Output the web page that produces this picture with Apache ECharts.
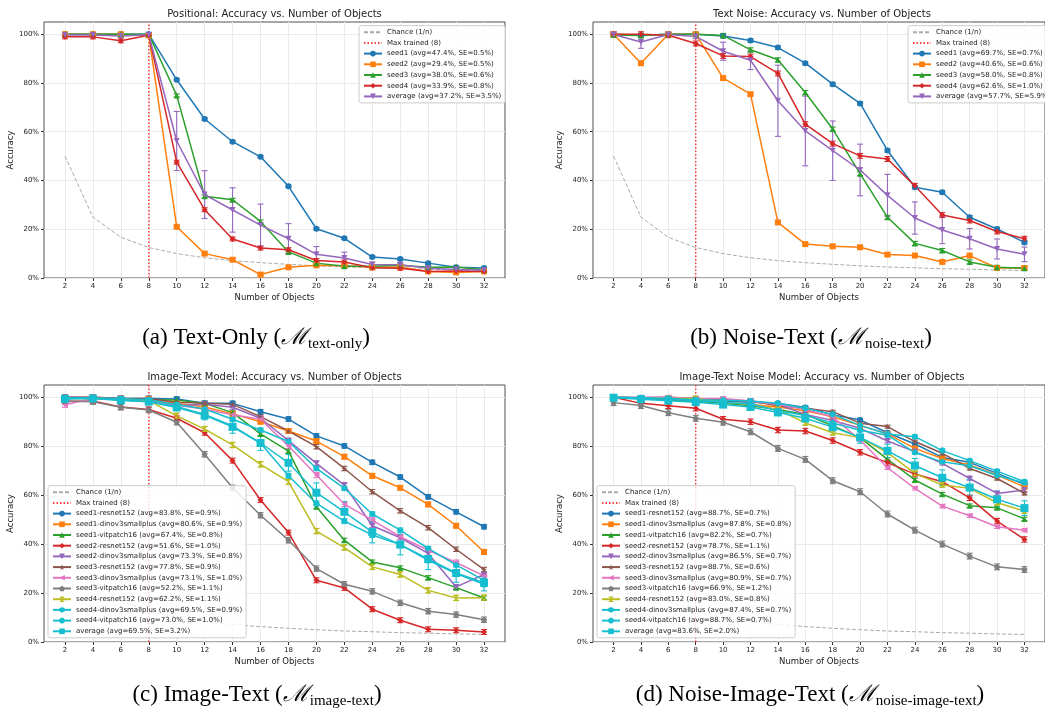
<!DOCTYPE html>
<html>
<head>
<meta charset="utf-8">
<script src="https://cdn.jsdelivr.net/npm/echarts@6/dist/echarts.min.js"></script>
<style>
  html, body { margin: 0; padding: 0; background: #fff; }
  #main { width: 1045px; height: 713px; }
</style>
</head>
<body>
<div id="main"></div>
<script>
// x positions and chance level
var N_OBJECTS = [2, 4, 6, 8, 10, 12, 14, 16, 18, 20, 22, 24, 26, 28, 30, 32];
var CHANCE = [50, 25, 16.7, 12.5, 10, 8.3, 7.1, 6.3, 5.6, 5.0, 4.5, 4.2, 3.8, 3.6, 3.3, 3.1];
var MAX_TRAINED = 8;
var Y_MAX = 105;
var Y_TICKS = [0, 20, 40, 60, 80, 100];

// (a) Positional / text only
var textOnlyLabels = ['seed1 (avg=47.4%, SE=0.5%)', 'seed2 (avg=29.4%, SE=0.5%)', 'seed3 (avg=38.0%, SE=0.6%)',
    'seed4 (avg=33.9%, SE=0.8%)', 'average (avg=37.2%, SE=3.5%)'];
var textOnlySeed1 = [100, 100, 100, 100, 81.3, 65.2, 55.9, 49.7, 37.6, 20.2, 16.3, 8.6, 7.8, 6.1, 4.4, 4.1];
var textOnlySeed2 = [100, 100, 100, 99.5, 21.0, 10.0, 7.5, 1.4, 4.4, 5.2, 5.0, 4.4, 4.5, 2.7, 2.3, 2.7];
var textOnlySeed3 = [100, 100, 100, 100, 74.9, 33.5, 32.1, 23.2, 10.7, 6.1, 4.8, 4.8, 5.2, 4.4, 4.5, 3.4];
var textOnlySeed4 = [98.9, 98.9, 97.3, 99.6, 47.5, 28.0, 16.0, 12.3, 11.6, 7.2, 6.6, 4.2, 4.0, 2.7, 2.9, 2.7];
var textOnlyAvg = [99.7, 99.7, 99.3, 99.8, 56.2, 34.2, 27.9, 21.7, 16.1, 9.7, 8.2, 5.5, 5.4, 4.0, 3.5, 3.2];
var textOnlyAvgSE = [0.3, 0.3, 0.7, 0.1, 12.1, 9.8, 9.1, 8.6, 6.2, 3.2, 2.4, 1.0, 0.9, 0.8, 0.6, 0.3];
var textOnlySeedSE = [0.5, 0.5, 0.6, 0.8];

// (b) Text noise
var noiseTextLabels = ['seed1 (avg=69.7%, SE=0.7%)', 'seed2 (avg=40.6%, SE=0.6%)', 'seed3 (avg=58.0%, SE=0.8%)',
    'seed4 (avg=62.6%, SE=1.0%)', 'average (avg=57.7%, SE=5.9%)'];
var noiseTextSeed1 = [100, 99.6, 100, 100, 99.3, 97.4, 94.5, 88.1, 79.5, 71.6, 52.3, 37.2, 35.2, 24.9, 20.1, 14.6];
var noiseTextSeed2 = [100, 88.1, 100, 100, 82.0, 75.4, 22.8, 13.9, 13.0, 12.6, 9.6, 9.2, 6.6, 9.2, 4.1, 4.1];
var noiseTextSeed3 = [99.7, 99.5, 100, 100, 99.5, 93.6, 89.5, 76.1, 61.1, 42.8, 24.9, 14.2, 11.3, 6.6, 4.4, 4.0];
var noiseTextSeed4 = [100, 100, 99.6, 96.2, 91.1, 90.8, 83.9, 63.1, 55.1, 50.1, 48.8, 37.8, 25.8, 23.6, 19.1, 16.1];
var noiseTextAvg = [99.9, 96.8, 99.9, 99.1, 93.0, 89.3, 72.7, 60.3, 52.2, 44.3, 33.9, 24.6, 19.7, 16.1, 11.9, 9.7];
var noiseTextAvgSE = [0.1, 2.6, 0.1, 0.9, 3.7, 3.8, 14.6, 14.3, 12.2, 10.6, 8.6, 6.6, 5.6, 4.2, 4.1, 3.0];
var noiseTextSeedSE = [0.7, 0.6, 0.8, 1.0];

// (c) Image-text
var imageTextLabels = ['seed1-resnet152 (avg=83.8%, SE=0.9%)', 'seed1-dinov3smallplus (avg=80.6%, SE=0.9%)',
    'seed1-vitpatch16 (avg=67.4%, SE=0.8%)', 'seed2-resnet152 (avg=51.6%, SE=1.0%)',
    'seed2-dinov3smallplus (avg=73.3%, SE=0.8%)', 'seed3-resnet152 (avg=77.8%, SE=0.9%)',
    'seed3-dinov3smallplus (avg=73.1%, SE=1.0%)', 'seed3-vitpatch16 (avg=52.2%, SE=1.1%)',
    'seed4-resnet152 (avg=62.2%, SE=1.1%)', 'seed4-dinov3smallplus (avg=69.5%, SE=0.9%)',
    'seed4-vitpatch16 (avg=73.0%, SE=1.0%)', 'average (avg=69.5%, SE=3.2%)'];
var imageTextS1Resnet = [100, 100, 99.5, 99.5, 99.3, 97.5, 97.5, 94.1, 91.1, 84.2, 80.1, 73.4, 67.4, 59.3, 53.2, 47.1];
var imageTextS1Dino = [100, 100, 99.5, 99.3, 97.5, 96.0, 93.2, 90.0, 86.2, 82.1, 75.7, 67.9, 63.0, 56.2, 47.5, 36.8];
var imageTextS1Vit = [99.6, 99.8, 99.0, 99.0, 98.9, 97.5, 93.7, 85.0, 78.0, 55.3, 41.6, 32.7, 30.3, 26.3, 22.2, 18.0];
var imageTextS2Resnet = [98.3, 98.5, 96.0, 95.0, 91.4, 85.5, 74.1, 58.0, 44.7, 25.2, 22.1, 13.4, 8.9, 5.2, 4.8, 4.1];
var imageTextS2Dino = [100, 100, 99.5, 99.0, 96.5, 97.1, 95.9, 91.4, 82.3, 73.0, 64.1, 47.5, 42.6, 36.2, 22.5, 27.6];
var imageTextS3Resnet = [99.5, 99.8, 99.5, 99.5, 98.0, 97.5, 97.1, 92.1, 86.2, 79.8, 70.9, 61.4, 53.6, 46.7, 37.9, 29.6];
var imageTextS3Dino = [96.9, 99.5, 99.0, 98.5, 96.8, 95.1, 92.8, 91.0, 80.1, 68.2, 56.3, 49.8, 43.0, 37.5, 32.5, 27.0];
var imageTextS3Vit = [98.5, 98.2, 95.9, 94.8, 89.8, 76.7, 63.0, 51.8, 41.6, 30.0, 23.6, 20.7, 16.0, 12.6, 11.2, 9.1];
var imageTextS4Resnet = [99.5, 99.6, 99.2, 98.6, 92.4, 87.0, 80.5, 72.6, 65.5, 45.3, 38.6, 30.7, 27.6, 21.1, 18.0, 18.1];
var imageTextS4Dino = [99.8, 99.7, 99.5, 99.0, 97.0, 95.2, 91.0, 86.6, 81.9, 70.9, 62.8, 52.3, 45.7, 38.2, 31.5, 25.2];
var imageTextS4Vit = [99.8, 99.5, 99.0, 98.2, 96.2, 93.0, 88.3, 81.2, 67.9, 56.6, 49.4, 43.7, 39.8, 33.4, 28.0, 23.6];
var imageTextAvg = [99.3, 99.5, 98.7, 98.2, 95.8, 92.6, 87.9, 81.3, 73.2, 61.0, 53.2, 44.9, 39.8, 33.9, 28.2, 24.2];
var imageTextAvgSE = [0.3, 0.2, 0.5, 0.6, 0.9, 1.8, 2.6, 3.0, 3.4, 4.0, 4.2, 4.4, 4.2, 4.3, 3.8, 3.3];
var imageTextSeedSE = [0.9, 0.9, 0.8, 1.0, 0.8, 0.9, 1.0, 1.1, 1.1, 0.9, 1.0];

// (d) Noise-image-text
var noiseImageLabels = ['seed1-resnet152 (avg=88.7%, SE=0.7%)', 'seed1-dinov3smallplus (avg=87.8%, SE=0.8%)',
    'seed1-vitpatch16 (avg=82.2%, SE=0.7%)', 'seed2-resnet152 (avg=78.7%, SE=1.1%)',
    'seed2-dinov3smallplus (avg=86.5%, SE=0.7%)', 'seed3-resnet152 (avg=88.7%, SE=0.6%)',
    'seed3-dinov3smallplus (avg=80.9%, SE=0.7%)', 'seed3-vitpatch16 (avg=66.9%, SE=1.2%)',
    'seed4-resnet152 (avg=83.0%, SE=0.8%)', 'seed4-dinov3smallplus (avg=87.4%, SE=0.7%)',
    'seed4-vitpatch16 (avg=88.7%, SE=0.7%)', 'average (avg=83.6%, SE=2.0%)'];
var noiseImageS1Resnet = [100, 99.6, 99.0, 98.5, 98.5, 98.0, 97.5, 95.8, 92.8, 90.7, 85.5, 80.9, 75.4, 73.4, 68.9, 64.4];
var noiseImageS1Dino = [100, 99.5, 99.0, 98.5, 98.0, 97.0, 96.0, 94.5, 92.0, 88.5, 85.0, 79.1, 75.0, 72.3, 68.2, 63.4];
var noiseImageS1Vit = [100, 99.5, 99.0, 98.5, 97.5, 96.5, 95.0, 93.0, 88.3, 83.5, 74.6, 66.2, 60.4, 55.7, 54.8, 50.3];
var noiseImageS2Resnet = [100, 97.5, 96.5, 95.5, 91.0, 90.0, 86.6, 86.2, 82.3, 77.5, 73.3, 68.6, 65.5, 58.9, 49.4, 41.9];
var noiseImageS2Dino = [100, 99.7, 99.5, 99.0, 98.8, 98.5, 97.0, 93.0, 90.5, 87.3, 82.1, 77.8, 73.0, 66.8, 60.7, 62.1];
var noiseImageS3Resnet = [100, 99.8, 100, 99.5, 99.0, 98.5, 96.5, 95.5, 94.1, 89.4, 88.0, 81.9, 77.1, 70.9, 66.8, 60.7];
var noiseImageS3Dino = [100, 100, 100, 99.5, 99.5, 98.5, 97.0, 95.0, 92.0, 82.5, 71.2, 62.8, 55.5, 51.6, 47.1, 45.7];
var noiseImageS3Vit = [97.8, 96.6, 93.7, 91.4, 89.8, 85.9, 79.1, 74.6, 65.9, 61.4, 52.3, 45.7, 40.0, 35.1, 30.7, 29.6];
var noiseImageS4Resnet = [100, 99.5, 99.5, 99.5, 98.0, 97.0, 95.0, 89.5, 85.5, 83.5, 77.4, 68.9, 64.1, 62.8, 56.9, 53.5];
var noiseImageS4Dino = [100, 99.7, 99.2, 98.7, 98.0, 97.2, 94.5, 92.5, 89.5, 86.5, 84.5, 77.4, 73.6, 72.0, 68.0, 65.0];
var noiseImageS4Vit = [100, 99.8, 99.5, 99.0, 98.8, 98.5, 97.5, 95.5, 93.0, 88.5, 85.0, 83.9, 78.2, 74.1, 69.8, 65.5];
var noiseImageAvg = [99.8, 99.2, 98.6, 98.0, 97.0, 96.0, 93.8, 91.4, 87.8, 83.6, 78.1, 72.1, 67.1, 63.1, 58.3, 54.7];
var noiseImageAvgSE = [0.2, 0.3, 0.6, 0.7, 0.8, 1.0, 1.3, 1.6, 2.0, 2.4, 2.7, 2.9, 3.2, 3.4, 3.3, 3.0];
var noiseImageSeedSE = [0.7, 0.8, 0.7, 1.1, 0.7, 0.6, 0.7, 1.2, 0.8, 0.7, 0.7];

var SYM = {
    circle: 'circle',
    square: 'rect',
    triUp: 'triangle',
    diamond: 'path://M5,0L10,5L5,10L0,5Z',
    triDown: 'path://M0,0L10,0L5,10Z',
    star: 'path://M5,0L6.18,3.38L9.76,3.45L6.9,5.62L7.94,9.05L5,7L2.06,9.05L3.1,5.62L0.24,3.45L3.82,3.38Z',
    triLeft: 'path://M0,5L10,0L10,10Z',
    pentagon: 'path://M5,0L10,3.8L8.1,10L1.9,10L0,3.8Z',
    hourglass: 'path://M0,0L10,0L5,5L10,10L0,10L5,5Z',
    hexagon: 'path://M5,0L9.33,2.5L9.33,7.5L5,10L0.67,7.5L0.67,2.5Z',
    octagon: 'path://M3,0L7,0L10,3L10,7L7,10L3,10L0,7L0,3Z'
};
var C = ['#1f77b4', '#ff7f0e', '#2ca02c', '#d62728', '#9467bd', '#8c564b', '#e377c2', '#7f7f7f', '#bcbd22', '#17becf'];

var smallPanel = {
    colors: [C[0], C[1], C[2], C[3], C[4]],
    symbols: [SYM.circle, SYM.square, SYM.triUp, SYM.diamond, SYM.triDown]
};
var bigPanel = {
    colors: [C[0], C[1], C[2], C[3], C[4], C[5], C[6], C[7], C[8], C[9], C[9], C[9]],
    symbols: [SYM.circle, SYM.square, SYM.triUp, SYM.diamond, SYM.triDown, SYM.star, SYM.triLeft,
        SYM.pentagon, SYM.hourglass, SYM.hexagon, SYM.octagon, SYM.square]
};

var panels = [
    {
        grid: { left: 44, top: 22, width: 461, height: 256 },
        title: 'Positional: Accuracy vs. Number of Objects',
        caption: { x: 256, y: 338, label: '(a) Text-Only (', sub: 'text-only' },
        legend: { left: 359, top: 25.7 },
        style: smallPanel,
        labels: textOnlyLabels,
        values: [textOnlySeed1, textOnlySeed2, textOnlySeed3, textOnlySeed4, textOnlyAvg],
        seedSE: textOnlySeedSE, avgSE: textOnlyAvgSE
    },
    {
        grid: { left: 593, top: 22, width: 458, height: 256 },
        title: 'Text Noise: Accuracy vs. Number of Objects',
        caption: { x: 811, y: 338, label: '(b) Noise-Text (', sub: 'noise-text' },
        legend: { left: 908, top: 25.7 },
        style: smallPanel,
        labels: noiseTextLabels,
        values: [noiseTextSeed1, noiseTextSeed2, noiseTextSeed3, noiseTextSeed4, noiseTextAvg],
        seedSE: noiseTextSeedSE, avgSE: noiseTextAvgSE
    },
    {
        grid: { left: 44, top: 385, width: 461, height: 257 },
        title: 'Image-Text Model: Accuracy vs. Number of Objects',
        caption: { x: 257, y: 695, label: '(c) Image-Text (', sub: 'image-text' },
        legend: { left: 48, top: 485.7 },
        style: bigPanel,
        labels: imageTextLabels,
        values: [imageTextS1Resnet, imageTextS1Dino, imageTextS1Vit, imageTextS2Resnet, imageTextS2Dino,
            imageTextS3Resnet, imageTextS3Dino, imageTextS3Vit, imageTextS4Resnet, imageTextS4Dino,
            imageTextS4Vit, imageTextAvg],
        seedSE: imageTextSeedSE, avgSE: imageTextAvgSE
    },
    {
        grid: { left: 593, top: 385, width: 458, height: 257 },
        title: 'Image-Text Noise Model: Accuracy vs. Number of Objects',
        caption: { x: 810, y: 695, label: '(d) Noise-Image-Text (', sub: 'noise-image-text' },
        legend: { left: 597, top: 485.7 },
        style: bigPanel,
        labels: noiseImageLabels,
        values: [noiseImageS1Resnet, noiseImageS1Dino, noiseImageS1Vit, noiseImageS2Resnet, noiseImageS2Dino,
            noiseImageS3Resnet, noiseImageS3Dino, noiseImageS3Vit, noiseImageS4Resnet, noiseImageS4Dino,
            noiseImageS4Vit, noiseImageAvg],
        seedSE: noiseImageSeedSE, avgSE: noiseImageAvgSE
    }
];

function renderErrorBar(params, api) {
    var x = api.value(0);
    var lo = api.coord([x, api.value(1)]);
    var hi = api.coord([x, api.value(2)]);
    var cap = 3;
    var st = { stroke: api.visual('color'), lineWidth: 1.1 };
    return {
        type: 'group',
        children: [
            { type: 'line', shape: { x1: lo[0], y1: lo[1], x2: hi[0], y2: hi[1] }, style: st },
            { type: 'line', shape: { x1: lo[0] - cap, y1: lo[1], x2: lo[0] + cap, y2: lo[1] }, style: st },
            { type: 'line', shape: { x1: hi[0] - cap, y1: hi[1], x2: hi[0] + cap, y2: hi[1] }, style: st }
        ]
    };
}

var TXT = '#222';
var option = {
    animation: false,
    textStyle: { fontFamily: 'DejaVu Sans' },
    grid: [], xAxis: [], yAxis: [], legend: [], series: [], graphic: []
};

panels.forEach(function (p, i) {
    option.grid.push(Object.assign({ show: true, borderColor: '#3c3c3c', borderWidth: 0.9 }, p.grid));
    option.xAxis.push({
        gridIndex: i, type: 'value', min: 0.5, max: 33.5,
        name: 'Number of Objects', nameLocation: 'middle', nameGap: 15,
        nameTextStyle: { fontSize: 8.5, color: TXT },
        axisLine: { show: false },
        axisTick: { show: true, customValues: N_OBJECTS, length: 3, lineStyle: { color: '#333' } },
        axisLabel: { customValues: N_OBJECTS, fontSize: 7, color: TXT, margin: 5 },
        splitLine: { show: true, lineStyle: { color: '#ebebeb', width: 1 } }
    });
    option.yAxis.push({
        gridIndex: i, type: 'value', min: 0, max: Y_MAX,
        name: 'Accuracy', nameLocation: 'middle', nameGap: 26, nameRotate: 90,
        nameTextStyle: { fontSize: 8.5, color: TXT },
        axisLine: { show: false },
        axisTick: { show: true, customValues: Y_TICKS, length: 3, lineStyle: { color: '#333' } },
        axisLabel: { customValues: Y_TICKS, fontSize: 7, color: TXT, margin: 5, formatter: '{value}%' },
        splitLine: { show: true, lineStyle: { color: '#ebebeb', width: 1 } }
    });

    option.series.push({
        type: 'line', name: 'Chance (1/n)', xAxisIndex: i, yAxisIndex: i, z: 1,
        data: N_OBJECTS.map(function (n, k) { return [n, CHANCE[k]]; }),
        symbol: 'none', silent: true,
        lineStyle: { color: '#ababab', width: 1, type: [4, 2] },
        itemStyle: { color: '#ababab' }
    });
    option.series.push({
        type: 'line', name: 'Max trained (8)', xAxisIndex: i, yAxisIndex: i, z: 1,
        data: [[MAX_TRAINED, 0], [MAX_TRAINED, Y_MAX]],
        symbol: 'none', silent: true,
        lineStyle: { color: 'rgba(255,0,0,0.75)', width: 1.5, type: [1.5, 2] },
        itemStyle: { color: 'rgba(255,0,0,0.75)' }
    });

    var last = p.values.length - 1;
    p.values.forEach(function (vals, s) {
        var color = p.style.colors[s];
        var isAvg = s === last;
        option.series.push({
            type: 'line', name: p.labels[s], xAxisIndex: i, yAxisIndex: i, z: 3,
            data: N_OBJECTS.map(function (n, k) { return [n, vals[k]]; }),
            symbol: p.style.symbols[s], symbolSize: isAvg && last > 4 ? 8 : 6,
            showSymbol: true, silent: true,
            lineStyle: { color: color, width: 1.5 },
            itemStyle: { color: color, borderWidth: 0 }
        });
        option.series.push({
            type: 'custom', name: 'err-' + i + '-' + s, xAxisIndex: i, yAxisIndex: i, z: 3,
            silent: true, renderItem: renderErrorBar, encode: { x: 0, y: [1, 2] },
            itemStyle: { color: color },
            data: N_OBJECTS.map(function (n, k) {
                var se = isAvg ? p.avgSE[k] : p.seedSE[s];
                return [n, vals[k] - se, vals[k] + se];
            })
        });
    });

    // reference lines get a plain line icon, no marker
    var legendData = [
        { name: 'Chance (1/n)', itemStyle: { opacity: 0 } },
        { name: 'Max trained (8)', itemStyle: { opacity: 0 } }
    ].concat(p.labels);

    option.legend.push({
        data: legendData,
        left: p.legend.left, top: p.legend.top, orient: 'vertical',
        itemGap: 3.7, itemWidth: 18, itemHeight: 7,
        padding: [3, 4, 3, 4], selectedMode: false,
        backgroundColor: 'rgba(255,255,255,0.82)', borderColor: '#cccccc', borderWidth: 1, borderRadius: 2,
        textStyle: { fontSize: 7, color: TXT, lineHeight: 7 }
    });

    option.graphic.push({
        type: 'text', x: p.grid.left + p.grid.width / 2, y: p.grid.top - 8,
        style: { text: p.title, fontSize: 10, fontFamily: 'DejaVu Sans', fill: TXT, align: 'center', verticalAlign: 'middle' }
    });
    option.graphic.push({
        type: 'text', x: p.caption.x, y: p.caption.y,
        style: {
            text: '{p|' + p.caption.label + '}{m|ℳ}{s|' + p.caption.sub + '}{p|)}',
            align: 'center', verticalAlign: 'middle', fill: '#000',
            rich: {
                p: { fontSize: 23, fontFamily: 'Liberation Serif', lineHeight: 27, verticalAlign: 'middle', fill: '#000' },
                m: { fontSize: 23, fontFamily: 'DejaVu Serif', fontStyle: 'italic', lineHeight: 27, verticalAlign: 'middle', fill: '#000' },
                s: { fontSize: 15, fontFamily: 'Liberation Serif', lineHeight: 16, verticalAlign: 'bottom', fill: '#000' }
            }
        }
    });
});

var myChart = echarts.init(document.getElementById('main'));
myChart.setOption(option);
</script>
</body>
</html>
